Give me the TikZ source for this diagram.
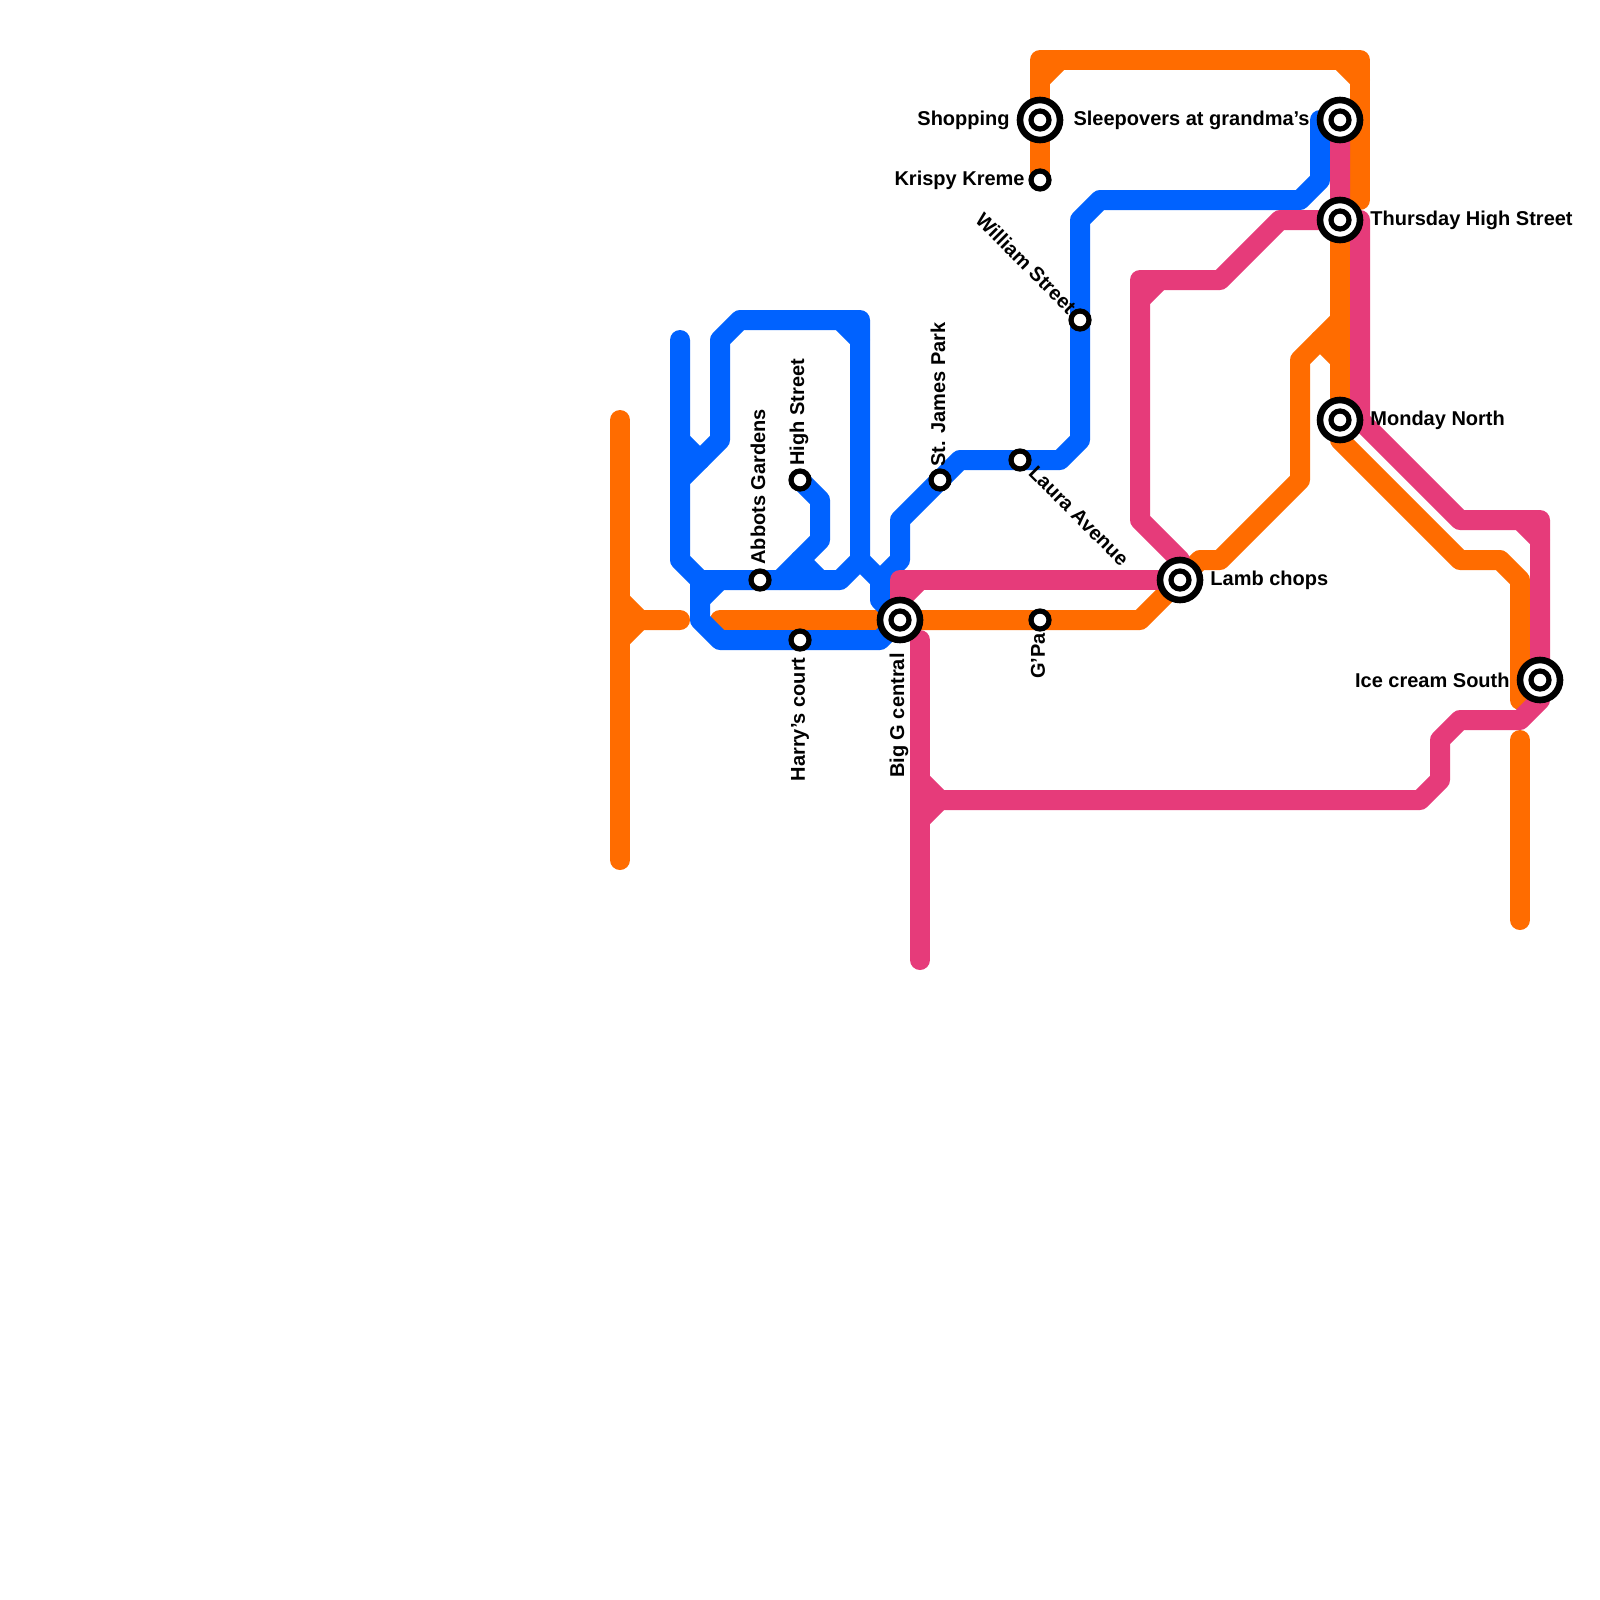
\documentclass[tikz,border=0pt]{standalone}
\usepackage{fontspec}
\setmainfont{Liberation Sans}
\usepackage{xcolor}
\definecolor{LineOrange}{HTML}{FF6C00}
\definecolor{LineBlue}{HTML}{0062FF}
\definecolor{LinePink}{HTML}{E63B7A}
\usetikzlibrary{backgrounds}
\tikzset{
  track/.style={line width=10pt,line cap=round,line join=round},
  orl/.style={track,draw=LineOrange},
  bll/.style={track,draw=LineBlue},
  pkl/.style={track,draw=LinePink},
  stop/.style={circle,draw=black,fill=white,line width=2.6pt,inner sep=0pt,minimum size=9pt},
  hub/.style={circle,draw=black,fill=white,line width=3.3pt,inner sep=0pt,minimum size=20pt,
    path picture={\draw[black,line width=2.6pt] (path picture bounding box.center) circle (4.5pt);}},
  lbl/.style={font=\bfseries\fontsize{10}{12}\selectfont,text=black,inner sep=0pt},
}

\begin{document}
\begin{tikzpicture}[x=0.5pt,y=-0.5pt]
\useasboundingbox (0,0) rectangle (1600,1600);

\node[hub] (sh) at (1040,120) {};
\node[stop] (kk) at (1040,180) {};
\node[hub] (sg) at (1340,120) {};
\node[hub] (th) at (1340,220) {};
\node[hub] (mn) at (1340,420) {};
\node[hub] (lc) at (1180,580) {};
\node[hub] (bg) at (900,620) {};
\node[stop] (gp) at (1040,620) {};
\node[stop] (hc) at (800,640) {};
\node[stop] (ag) at (760,580) {};
\node[stop] (hs) at (800,480) {};
\node[stop] (sj) at (940,480) {};
\node[stop] (la) at (1020,460) {};
\node[stop] (ws) at (1080,320) {};
\node[hub] (ic) at (1540,680) {};

\node[lbl,anchor=east] (tsh) at (1010,120) {Shopping};
\node[lbl,anchor=east] (tkk) at (1025,180) {Krispy Kreme};
\node[lbl,anchor=east] (tsg) at (1310,120) {Sleepovers at grandma’s};
\node[lbl,anchor=west] (tth) at (1370,220) {Thursday High Street};
\node[lbl,anchor=west] (tmn) at (1370,420) {Monday North};
\node[lbl,anchor=west] (tlc) at (1210,580) {Lamb chops};
\node[lbl,anchor=east] (tic) at (1510,680) {Ice cream South};
\node[lbl,anchor=west,rotate=90] (tag) at (758,565) {Abbots Gardens};
\node[lbl,anchor=west,rotate=90] (ths) at (799,466) {High Street};
\node[lbl,anchor=west,rotate=90] (tsj) at (938,467) {St. James Park};
\node[lbl,anchor=east,rotate=90] (thc) at (800,657) {Harry’s court};
\node[lbl,anchor=east,rotate=90] (tbg) at (899,653) {Big G central};
\node[lbl,anchor=east,rotate=90] (tgp) at (1038,633) {G’Pa};
\node[lbl,anchor=east,rotate=-45] (tws) at (1073,310) {William Street};
\node[lbl,anchor=west,rotate=-45] (tla) at (1032,469) {Laura Avenue};

\coordinate (ot) at (620,420);
\coordinate (ob) at (620,860);
\coordinate (oj) at (640,620);
\coordinate (oe) at (680,620);
\coordinate (os) at (720,620);
\coordinate (otr) at (1360,200);
\coordinate (oif) at (1520,700);
\coordinate (ogt) at (1520,740);
\coordinate (ogb) at (1520,920);
\coordinate (bt) at (680,340);
\coordinate (pb) at (920,960);
\coordinate (pt) at (920,640);
\coordinate (pj) at (940,800);

\begin{scope}[on background layer]
\draw[orl] (ot) -- (ob);
\draw[orl] (620,600) -- (oj) -- (oe);
\draw[orl] (620,640) -- (oj);
\draw[orl] (kk.center) -- (1040,60) -- (1360,60) -- (otr);
\draw[orl] (1040,80) -- (1060,60);
\draw[orl] (1340,60) -- (1360,80);
\draw[orl] (os) -- (bg.center) -- (gp.center) -- (1140,620) -- (lc.center) -- (1200,560) -- (1220,560)
  -- (1300,480) -- (1300,360) -- (1340,320);
\draw[orl] (1320,340) -- (1340,360);
\draw[orl] (th.center) -- (mn.center) -- (1340,440) -- (1460,560) -- (1500,560) -- (1520,580) -- (oif);
\draw[orl] (ogt) -- (ogb);

\draw[bll] (bt) -- (680,560) -- (700,580) -- (ag.center) -- (840,580) -- (860,560) -- (860,320)
  -- (740,320) -- (720,340) -- (720,440) -- (680,480);
\draw[bll] (680,440) -- (700,460);
\draw[bll] (840,320) -- (860,340);
\draw[bll] (700,580) -- (700,620) -- (720,640) -- (hc.center) -- (880,640) -- (bg.center);
\draw[bll] (700,600) -- (720,580);
\draw[bll] (hs.center) -- (820,500) -- (820,540) -- (780,580);
\draw[bll] (800,560) -- (820,580);
\draw[bll] (860,560) -- (880,580) -- (880,600) -- (bg.center);
\draw[bll] (880,580) -- (900,560) -- (900,520) -- (sj.center) -- (960,460) -- (la.center) -- (1060,460)
  -- (1080,440) -- (ws.center) -- (1080,220) -- (1100,200) -- (1300,200) -- (1320,180) -- (1320,120) -- (sg.center);

\draw[pkl] (pt) -- (pb);
\draw[pkl] (920,780) -- (pj) -- (1420,800) -- (1440,780) -- (1440,740) -- (1460,720) -- (1520,720)
  -- (1540,700) -- (ic.center) -- (1540,520) -- (1460,520) -- (1360,420) -- (1360,220) -- (th.center);
\draw[pkl] (920,820) -- (pj);
\draw[pkl] (1520,520) -- (1540,540);
\draw[pkl] (sg.center) -- (th.center) -- (1280,220) -- (1220,280) -- (1140,280) -- (1140,520) -- (1180,560) -- (lc.center);
\draw[pkl] (1140,300) -- (1160,280);
\draw[pkl] (lc.center) -- (900,580) -- (bg.center);
\draw[pkl] (900,600) -- (920,580);
\end{scope}
\end{tikzpicture}
\end{document}
